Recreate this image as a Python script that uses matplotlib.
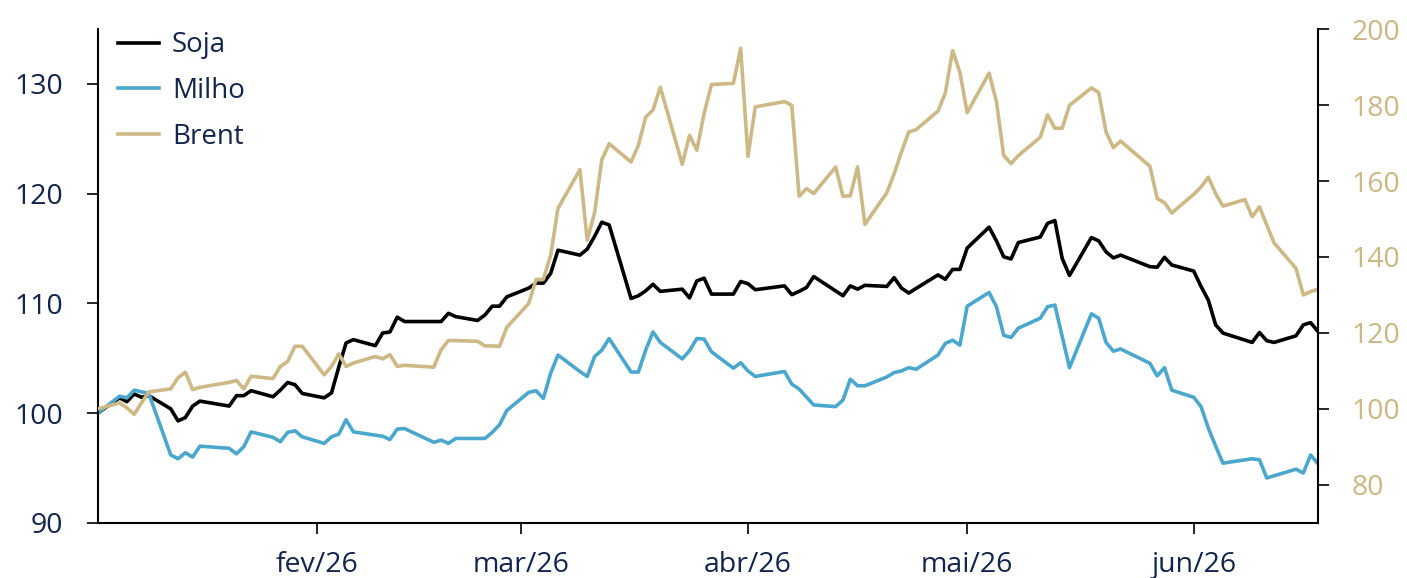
import matplotlib
matplotlib.use("Agg")
import matplotlib.pyplot as plt
import pandas as pd

# index, base 100 at the start of the year (dates are 2026, MM-DD)
soja_dates = [
    "01-02", "01-05", "01-06", "01-07", "01-08", "01-09", "01-12", "01-13", "01-14", "01-15",
    "01-16", "01-20", "01-21", "01-22", "01-23", "01-26", "01-27", "01-28", "01-29", "01-30",
    "02-02", "02-03", "02-04", "02-05", "02-06", "02-09", "02-10", "02-11", "02-12", "02-13",
    "02-17", "02-18", "02-19", "02-20", "02-23", "02-24", "02-25", "02-26", "02-27",
    "03-02", "03-03", "03-04", "03-05", "03-06", "03-09", "03-10", "03-11", "03-12", "03-13",
    "03-16", "03-17", "03-18", "03-19", "03-20", "03-23", "03-24", "03-25", "03-26", "03-27",
    "03-30", "03-31", "04-01", "04-02", "04-06", "04-07", "04-08", "04-09", "04-10",
    "04-14", "04-15", "04-16", "04-17", "04-20", "04-21", "04-22", "04-23", "04-27", "04-28",
    "04-29", "04-30", "05-01", "05-04", "05-05", "05-06", "05-07", "05-08", "05-11", "05-12",
    "05-13", "05-14", "05-15", "05-18", "05-19", "05-20", "05-21", "05-22", "05-26", "05-27",
    "05-28", "05-29", "06-01", "06-02", "06-03", "06-04", "06-05", "06-09", "06-10", "06-11",
    "06-12", "06-15", "06-16", "06-17", "06-18",
]
soja = [
    100.0, 101.4, 101.05, 101.75, 101.45, 101.6, 100.4, 99.3, 99.6, 100.65,
    101.1, 100.65, 101.6, 101.6, 102.05, 101.5, 102.1, 102.8, 102.6, 101.8,
    101.4, 101.85, 104.2, 106.4, 106.7, 106.15, 107.3, 107.4, 108.75, 108.35,
    108.35, 108.35, 109.1, 108.8, 108.45, 108.95, 109.75, 109.75, 110.6,
    111.4, 111.85, 111.85, 112.75, 114.85, 114.4, 114.95, 116.1, 117.4, 117.15,
    110.45, 110.7, 111.15, 111.75, 111.1, 111.3, 110.5, 112.05, 112.3, 110.85,
    110.85, 112.0, 111.8, 111.25, 111.6, 110.8, 111.1, 111.45, 112.45,
    110.7, 111.6, 111.3, 111.65, 111.55, 112.35, 111.4, 110.95, 112.6, 112.2,
    113.1, 113.1, 115.05, 116.95, 115.7, 114.25, 114.05, 115.55, 116.05, 117.3,
    117.55, 114.1, 112.55, 116.0, 115.7, 114.7, 114.15, 114.4, 113.35, 113.3,
    114.2, 113.5, 112.95, 111.55, 110.3, 108.05, 107.3, 106.45, 107.35, 106.6,
    106.45, 107.05, 108.05, 108.25, 107.45,
]

milho_dates = [
    "01-02", "01-05", "01-06", "01-07", "01-08", "01-09", "01-12", "01-13", "01-14", "01-15",
    "01-16", "01-20", "01-21", "01-22", "01-23", "01-26", "01-27", "01-28", "01-29", "01-30",
    "02-02", "02-03", "02-04", "02-05", "02-06", "02-09", "02-10", "02-11", "02-12", "02-13",
    "02-17", "02-18", "02-19", "02-20", "02-23", "02-24", "02-25", "02-26", "02-27",
    "03-02", "03-03", "03-04", "03-05", "03-06", "03-09", "03-10", "03-11", "03-12", "03-13",
    "03-16", "03-17", "03-18", "03-19", "03-20", "03-23", "03-24", "03-25", "03-26", "03-27",
    "03-30", "03-31", "04-01", "04-02", "04-06", "04-07", "04-08", "04-10", "04-13",
    "04-14", "04-15", "04-16", "04-17", "04-20", "04-21", "04-22", "04-23", "04-24", "04-27",
    "04-28", "04-29", "04-30", "05-01", "05-04", "05-05", "05-06", "05-07", "05-08", "05-11",
    "05-12", "05-13", "05-14", "05-15", "05-18", "05-19", "05-20", "05-21", "05-22", "05-26",
    "05-27", "05-28", "05-29", "06-01", "06-02", "06-03", "06-04", "06-05", "06-09", "06-10",
    "06-11", "06-12", "06-15", "06-16", "06-17", "06-18",
]
milho = [
    100.0, 101.55, 101.4, 102.1, 101.95, 101.8, 96.2, 95.85, 96.4, 96.0,
    97.0, 96.8, 96.3, 96.95, 98.3, 97.8, 97.4, 98.25, 98.4, 97.85,
    97.25, 97.85, 98.1, 99.4, 98.3, 98.0, 97.9, 97.6, 98.55, 98.6,
    97.35, 97.55, 97.25, 97.7, 97.7, 97.7, 98.25, 98.95, 100.25,
    101.9, 102.05, 101.35, 103.65, 105.3, 103.8, 103.35, 105.15, 105.75, 106.8,
    103.75, 103.75, 105.75, 107.4, 106.45, 104.95, 105.7, 106.8, 106.75, 105.6,
    104.1, 104.6, 103.85, 103.35, 103.8, 102.65, 102.2, 100.75, 100.6,
    101.2, 103.1, 102.5, 102.5, 103.3, 103.7, 103.85, 104.15, 104.0, 105.3,
    106.35, 106.65, 106.2, 109.75, 111.0, 109.7, 107.1, 106.9, 107.75, 108.65,
    109.7, 109.85, 107.0, 104.15, 109.05, 108.65, 106.45, 105.65, 105.85, 104.55,
    103.4, 104.15, 102.1, 101.45, 100.6, 98.65, 97.0, 95.45, 95.85, 95.75,
    94.1, 94.3, 94.9, 94.55, 96.2, 95.4,
]

brent_dates = [
    "01-02", "01-05", "01-06", "01-07", "01-08", "01-09", "01-12", "01-13", "01-14", "01-15",
    "01-16", "01-20", "01-21", "01-22", "01-23", "01-26", "01-27", "01-28", "01-29", "01-30",
    "02-02", "02-03", "02-04", "02-05", "02-06", "02-09", "02-10", "02-11", "02-12", "02-13",
    "02-17", "02-18", "02-19", "02-20", "02-23", "02-24", "02-25", "02-26", "02-27",
    "03-02", "03-03", "03-04", "03-05", "03-06", "03-09", "03-10", "03-11", "03-12", "03-13",
    "03-16", "03-17", "03-18", "03-19", "03-20", "03-23", "03-24", "03-25", "03-26", "03-27",
    "03-30", "03-31", "04-01", "04-02", "04-06", "04-07", "04-08", "04-09", "04-10", "04-13",
    "04-14", "04-15", "04-16", "04-17", "04-20", "04-21", "04-22", "04-23", "04-24", "04-27",
    "04-28", "04-29", "04-30", "05-01", "05-04", "05-05", "05-06", "05-07", "05-08", "05-11",
    "05-12", "05-13", "05-14", "05-15", "05-18", "05-19", "05-20", "05-21", "05-22", "05-26",
    "05-27", "05-28", "05-29", "06-01", "06-02", "06-03", "06-04", "06-05", "06-08", "06-09",
    "06-10", "06-11", "06-12", "06-15", "06-16", "06-17", "06-18",
]
brent = [
    100.0, 101.6, 100.3, 98.6, 101.6, 104.5, 105.3, 108.2, 109.7, 105.1,
    105.7, 107.0, 107.5, 105.3, 108.6, 108.0, 111.2, 112.5, 116.5, 116.5,
    109.0, 111.2, 114.5, 111.2, 112.1, 113.8, 113.2, 114.3, 111.2, 111.5,
    111.0, 115.6, 118.0, 118.0, 117.8, 116.6, 116.6, 116.5, 121.5,
    127.8, 134.1, 134.1, 140.5, 152.8, 163.0, 144.4, 151.6, 165.6, 169.8,
    165.0, 169.4, 176.8, 178.7, 184.7, 164.4, 172.0, 168.1, 177.8, 185.4,
    185.7, 194.9, 166.5, 179.5, 180.9, 179.9, 156.0, 158.0, 156.7, 163.7,
    156.0, 156.1, 163.7, 148.6, 156.9, 161.9, 167.6, 172.9, 173.5, 178.4,
    183.1, 194.3, 188.6, 178.0, 188.4, 180.9, 166.7, 164.6, 166.7, 171.5,
    177.4, 173.9, 173.9, 179.9, 184.5, 183.3, 172.9, 168.8, 170.5, 163.9,
    155.4, 154.3, 151.6, 156.5, 158.4, 161.0, 156.7, 153.4, 155.1, 150.6,
    153.2, 148.4, 143.7, 137.0, 130.0, 130.9, 131.5,
]

month_ticks = ["02-01", "03-01", "04-01", "05-01", "06-01"]
month_labels = ["fev/26", "mar/26", "abr/26", "mai/26", "jun/26"]


def to_dates(md):
    return pd.to_datetime(["2026-" + s for s in md])


NAVY = "#13244d"
GOLD = "#c9b784"

plt.rcParams["font.family"] = ["Open Sans", "DejaVu Sans"]
plt.rcParams["font.size"] = 20

fig = plt.figure(figsize=(14.07, 5.78), dpi=100)
ax = fig.add_axes([0.0694, 0.0952, 0.8673, 0.8546])
ax2 = ax.twinx()

l1, = ax.plot(to_dates(soja_dates), soja, color="black", lw=2.6, label="Soja")
l2, = ax.plot(to_dates(milho_dates), milho, color="#4ba7cc", lw=2.6, label="Milho")
l3, = ax2.plot(to_dates(brent_dates), brent, color="#cdb985", lw=2.6, label="Brent")

ax.set_xlim(pd.Timestamp("2026-01-02"), pd.Timestamp("2026-06-18"))
ax.set_ylim(90, 135)
ax2.set_ylim(70, 200)
ax.set_yticks([90, 100, 110, 120, 130])
ax2.set_yticks([80, 100, 120, 140, 160, 180, 200])
ax.set_xticks(to_dates(month_ticks))
ax.set_xticklabels(month_labels)

for a in (ax, ax2):
    a.spines["top"].set_visible(False)
    for s in a.spines.values():
        s.set_linewidth(1.5)
ax.spines["right"].set_visible(False)
ax2.spines["left"].set_visible(False)
ax2.spines["bottom"].set_visible(False)

ax.tick_params(axis="y", length=8, width=1.2, pad=17, colors="black", labelcolor=NAVY, labelsize=20.5)
ax.tick_params(axis="x", length=8, width=1.2, pad=12, colors="black", labelcolor=NAVY, labelsize=20.5)
ax2.tick_params(axis="y", length=8, width=1.2, pad=16, colors="black", labelcolor=GOLD, labelsize=20.5)

leg = ax.legend(handles=[l1, l2, l3], loc="upper left", bbox_to_anchor=(0.0837, 0.9456),
                bbox_transform=fig.transFigure, frameon=False, handlelength=1.5,
                handletextpad=0.45, labelspacing=0.64, borderaxespad=0, borderpad=0)
for t in leg.get_texts():
    t.set_color(NAVY)
leg.set_zorder(5)

fig.savefig("out.png", dpi=100)
